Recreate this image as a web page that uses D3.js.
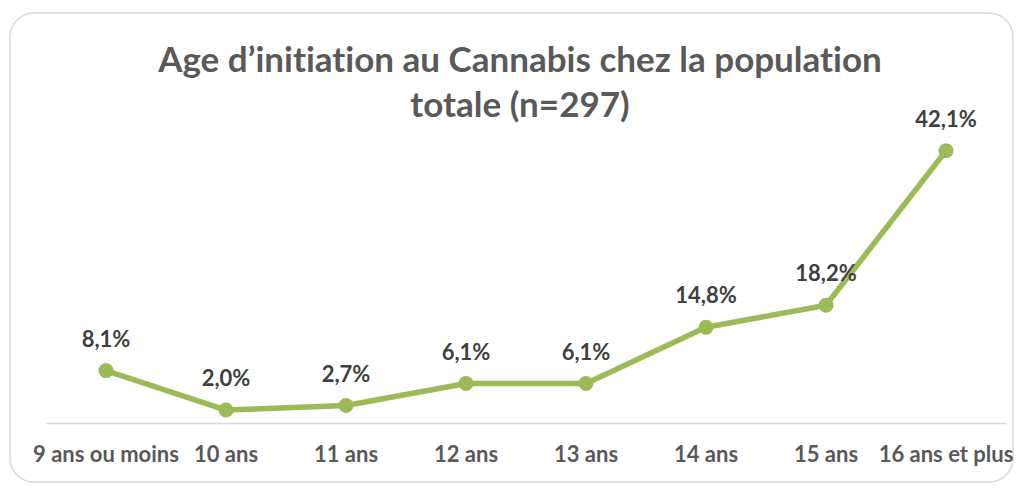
<!DOCTYPE html>
<html>
<head>
<meta charset="utf-8">
<script src="https://cdn.jsdelivr.net/npm/d3@7"></script>
<style>
  body { margin: 0; background: #fff; }
  svg { display: block; font-family: Lato, "Open Sans", sans-serif; font-variant-ligatures: none; }
</style>
</head>
<body>
<div id="chart"></div>
<script>
const categories = ["9 ans ou moins", "10 ans", "11 ans", "12 ans", "13 ans", "14 ans", "15 ans", "16 ans et plus"];
const values = [8.1, 2.0, 2.7, 6.1, 6.1, 14.8, 18.2, 42.1];
const titleLines = ["Age d\u2019initiation au Cannabis chez la population", "totale (n=297)"];

const width = 1016, height = 488;
const green = "#9bbb59";

const svg = d3.select("#chart").append("svg")
  .attr("width", width)
  .attr("height", height);

// outer frame
svg.append("rect")
  .attr("x", 10).attr("y", 13)
  .attr("width", 1003).attr("height", 469)
  .attr("rx", 24)
  .attr("fill", "#fff")
  .attr("stroke", "#d9d9d9")
  .attr("stroke-width", 1.5);

const x = d3.scaleBand()
  .domain(categories)
  .range([46, 1006]);

const y = d3.scaleLinear()
  .domain([0, 45])
  .range([423, 132]);

// title
svg.append("text")
  .attr("text-anchor", "middle")
  .attr("fill", "#595959")
  .style("font-size", "35px")
  .style("font-weight", "bold")
  .selectAll("tspan")
  .data(titleLines)
  .enter()
  .append("tspan")
  .attr("x", 520)
  .attr("y", (d, i) => 72 + i * 45)
  .text(d => d);

// x axis
const xAxis = svg.append("g")
  .attr("transform", `translate(0, ${y(0)})`)
  .call(d3.axisBottom(x).tickSize(0).tickPadding(23));
xAxis.select(".domain").attr("stroke", "#d9d9d9").attr("stroke-width", 1.5);
xAxis.selectAll("text")
  .attr("fill", "#595959")
  .style("font-size", "22px")
  .style("font-weight", "bold")
  .style("font-family", "Lato, \"Open Sans\", sans-serif");

const cx = d => x(d) + x.bandwidth() / 2;

const line = d3.line()
  .x((d, i) => cx(categories[i]))
  .y(d => y(d));

svg.append("path")
  .datum(values)
  .attr("d", line)
  .attr("fill", "none")
  .attr("stroke", green)
  .attr("stroke-width", 5.5)
  .attr("stroke-linejoin", "round");

svg.selectAll("circle.pt")
  .data(values)
  .enter()
  .append("circle")
  .attr("class", "pt")
  .attr("cx", (d, i) => cx(categories[i]))
  .attr("cy", d => y(d))
  .attr("r", 7.5)
  .attr("fill", green);

svg.selectAll("text.lbl")
  .data(values)
  .enter()
  .append("text")
  .attr("class", "lbl")
  .attr("x", (d, i) => cx(categories[i]))
  .attr("y", d => y(d) - 24)
  .attr("text-anchor", "middle")
  .attr("fill", "#404040")
  .style("font-size", "22px")
  .style("font-weight", "bold")
  .text(d => d.toFixed(1).replace(".", ",") + "%");
</script>
</body>
</html>
